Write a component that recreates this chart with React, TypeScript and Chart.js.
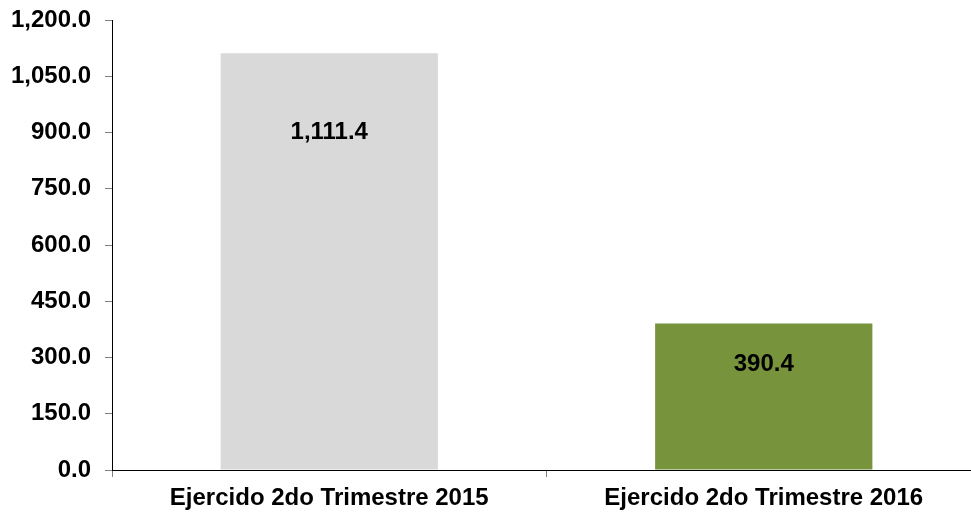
import React, { useEffect, useRef } from "react";
import { Chart, registerables } from "chart.js";

Chart.register(...registerables);

const categories = ["Ejercido 2do Trimestre 2015", "Ejercido 2do Trimestre 2016"];
const values = [1111.4, 390.4];
const barColors = ["#D9D9D9", "#77933C"];
const yMin = 0;
const yMax = 1200;
const yStep = 150;

const FONT_FAMILY = "'Liberation Sans', Arial, sans-serif";
const FONT_SIZE = 24;

const fmt = (v: number) =>
  v.toLocaleString("en-US", { minimumFractionDigits: 1, maximumFractionDigits: 1 });

const labelPlugin = {
  id: "barLabels",
  afterDatasetsDraw(chart: any, _args: any, opts: any) {
    const ctx = chart.ctx;
    const meta = chart.getDatasetMeta(0);
    const offsets: number[] = opts.offsets || [];
    ctx.save();
    ctx.font = `bold ${FONT_SIZE}px ${FONT_FAMILY}`;
    ctx.fillStyle = "#000000";
    ctx.textAlign = "center";
    ctx.textBaseline = "middle";
    meta.data.forEach((bar: any, i: number) => {
      const v = chart.data.datasets[0].data[i] as number;
      ctx.fillText(fmt(v), bar.x, bar.y + (offsets[i] ?? 40));
    });
    ctx.restore();
  },
};

export default function App() {
  const canvasRef = useRef<HTMLCanvasElement | null>(null);

  useEffect(() => {
    if (!canvasRef.current) return;
    const chart = new Chart(canvasRef.current, {
      type: "bar",
      data: {
        labels: categories,
        datasets: [
          {
            data: values,
            backgroundColor: barColors,
            borderWidth: 0,
            categoryPercentage: 1,
            barPercentage: 0.5,
          },
        ],
      },
      options: {
        animation: false,
        responsive: true,
        maintainAspectRatio: false,
        layout: { padding: { top: 20, right: 0, bottom: 0, left: 0 } },
        plugins: {
          legend: { display: false },
          tooltip: { enabled: false },
          barLabels: { offsets: [79, 41] },
        } as any,
        scales: {
          x: {
            grid: {
              display: true,
              offset: true,
              drawOnChartArea: false,
              drawTicks: true,
              tickLength: 7,
              tickColor: "#808080",
            },
            border: { display: true, color: "#000000", width: 1 },
            ticks: {
              color: "#000000",
              font: { family: FONT_FAMILY, size: FONT_SIZE, weight: "bold" },
              padding: 7,
              maxRotation: 0,
            },
            afterFit: (scale: any) => {
              scale.height = 44;
              scale.paddingLeft = 0;
              scale.paddingRight = 0;
            },
          },
          y: {
            min: yMin,
            max: yMax,
            grid: {
              display: true,
              drawOnChartArea: false,
              drawTicks: true,
              tickLength: 7,
              tickColor: "#808080",
            },
            border: { display: true, color: "#000000", width: 1 },
            ticks: {
              stepSize: yStep,
              color: "#000000",
              font: { family: FONT_FAMILY, size: FONT_SIZE, weight: "bold" },
              padding: 14,
              callback: (v: any) => fmt(Number(v)),
            },
            afterFit: (scale: any) => {
              scale.width = 112;
              scale.paddingTop = 0;
              scale.paddingBottom = 0;
            },
          },
        },
      },
      plugins: [labelPlugin],
    });
    return () => chart.destroy();
  }, []);

  return (
    <div
      style={{
        position: "absolute",
        left: 0,
        top: 0,
        width: 971,
        height: 514,
        overflow: "hidden",
        background: "#ffffff",
      }}
    >
      <div style={{ position: "relative", width: 981, height: 514 }}>
        <canvas ref={canvasRef} />
      </div>
    </div>
  );
}
